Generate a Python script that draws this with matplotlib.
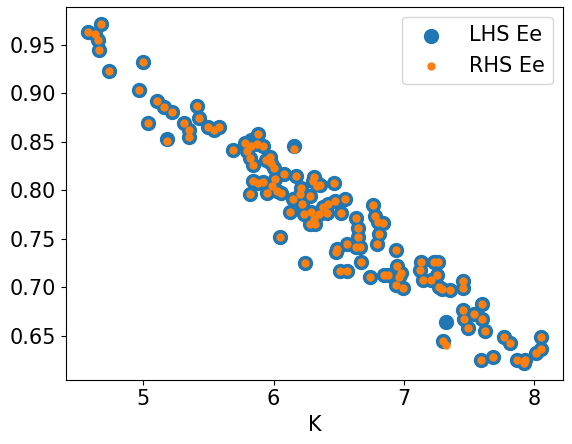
import matplotlib
matplotlib.use("Agg")
import matplotlib.pyplot as plt
import numpy as np

K = [4.58,4.63,4.65,4.68,4.66,4.74,4.97,5.0,5.04,5.11,5.16,5.18,5.22,5.31,5.35,5.35,5.41,5.43,5.50,5.54,5.58,
     5.69,5.78,5.80,5.82,5.83,5.84,5.87,5.88,5.92,5.94,5.97,5.98,6.00,5.84,5.82,5.88,5.92,5.95,6.01,5.99,6.03,6.06,
     6.05,6.08,6.16,6.17,6.15,6.13,6.20,6.22,6.23,6.24,6.21,6.28,6.30,6.31,6.33,6.29,6.31,6.32,6.35,6.38,6.41,6.42,
     6.28,6.36,6.46,6.47,6.49,6.48,6.51,6.52,6.55,6.56,6.56,6.63,6.63,6.65,6.65,6.67,6.66,6.74,6.76,6.78,6.80,6.81,
     6.79,6.84,6.85,6.88,6.94,6.95,6.94,6.96,6.98,6.99,7.12,7.13,7.15,7.21,7.23,7.25,7.26,7.29,7.32,7.30,7.35,7.45,
     7.45,7.45,7.46,7.49,7.54,7.60,7.60,7.62,7.59,7.68,7.77,7.81,7.87,7.92,7.93,8.01,8.05,8.05,7.27]
lhs = [0.963,0.961,0.955,0.972,0.945,0.923,0.903,0.932,0.869,0.892,0.886,0.853,0.881,0.869,0.855,0.862,0.887,0.875,0.865,0.862,0.865,
       0.842,0.849,0.841,0.833,0.852,0.826,0.848,0.858,0.846,0.831,0.834,0.828,0.823,0.810,0.796,0.807,0.808,0.797,0.812,0.804,0.799,0.797,
       0.752,0.817,0.846,0.815,0.791,0.778,0.796,0.786,0.775,0.725,0.802,0.794,0.810,0.814,0.807,0.778,0.770,0.765,0.775,0.783,0.776,0.786,
       0.765,0.805,0.807,0.789,0.739,0.736,0.717,0.776,0.791,0.744,0.717,0.741,0.771,0.752,0.761,0.726,0.741,0.710,0.785,0.773,0.767,0.755,
       0.744,0.766,0.713,0.713,0.738,0.722,0.702,0.710,0.715,0.699,0.718,0.726,0.707,0.707,0.726,0.713,0.726,0.698,0.664,0.644,0.697,0.699,
       0.706,0.676,0.667,0.658,0.672,0.667,0.683,0.655,0.625,0.628,0.648,0.642,0.625,0.622,0.625,0.632,0.636,0.648,0.700]
rhs = list(lhs)
rhs[25] = 0.846
rhs[45] = 0.843
rhs[105] = 0.640
rhs[11] = 0.851
rhs[57] = 0.804

fig, ax = plt.subplots(figsize=(5.72, 4.44), dpi=100)
ax.scatter(K, lhs, s=100, color='#1f77b4', label='LHS Ee')
ax.scatter(K, rhs, s=25, color='#ff7f0e', label='RHS Ee')
ax.set_xlabel('K', fontsize=15)
ax.tick_params(labelsize=15)
ax.set_xticks([5, 6, 7, 8])
ax.legend(fontsize=15)
fig.subplots_adjust(left=0.115, right=0.985, top=0.985, bottom=0.145)
fig.savefig('out.png', dpi=100)
